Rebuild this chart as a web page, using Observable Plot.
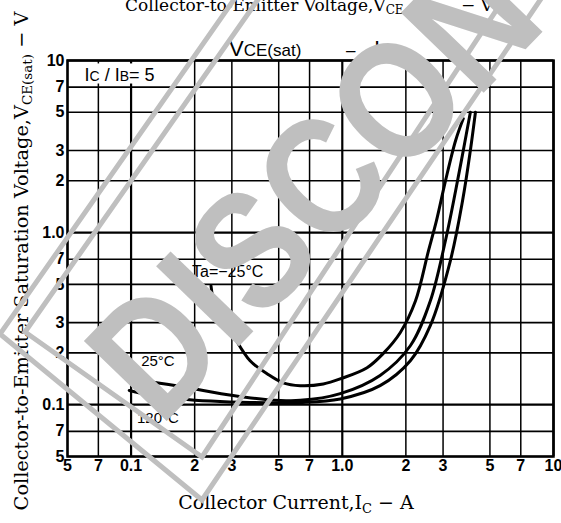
<!DOCTYPE html>
<html><head><meta charset="utf-8">
<script src="https://cdn.jsdelivr.net/npm/d3@7"></script>
<script src="https://cdn.jsdelivr.net/npm/@observablehq/plot@0.6"></script>
<style>body{margin:0;background:#fff}#chart{width:561px;height:523px;overflow:hidden}</style>
</head><body><div id="chart"></div>
<script>
// ---- data ----
const xTicks = [0.05,0.07,0.1,0.2,0.3,0.5,0.7,1,2,3,5,7,10];
const xTickLabels = ["5","7","0.1","2","3","5","7","1.0","2","3","5","7","10"];
const yTicks = [0.05,0.07,0.1,0.2,0.3,0.5,0.7,1,2,3,5,7,10];
const yTickLabels = ["5","7","0.1","2","3","5","7","1.0","2","3","5","7","10"];
const curveNames = ["Ta=−25°C","25°C","120°C"];
const icCold = [0.239,0.250,0.301,0.366,0.442,0.525,0.632,0.813,0.99,1.31,1.56,1.88,2.22,2.56,2.79,3.08,3.44,3.74];
const vCold  = [0.49,0.377,0.259,0.180,0.151,0.134,0.129,0.132,0.142,0.164,0.198,0.262,0.40,0.786,1.17,2.0,3.43,4.6];
const icRoom = [0.123,0.176,0.304,0.442,0.632,0.978,1.51,2.10,2.61,3.08,3.44,3.74,4.04];
const vRoom  = [0.136,0.127,0.113,0.107,0.106,0.116,0.148,0.220,0.40,0.90,1.75,3.0,5.0];
const icHot  = [0.098,0.123,0.171,0.366,0.632,0.978,1.51,2.10,2.61,3.25,3.71,4.04,4.27];
const vHot   = [0.121,0.114,0.108,0.103,0.103,0.108,0.129,0.180,0.288,0.688,1.53,3.0,5.0];
// curve label anchors (data units) and anchors
const labelIc = [0.423,0.134,0.134];
const labelV  = [0.593,0.178,0.083];
const labelAnchor = ["end","middle","middle"];

const series = [[icCold,vCold],[icRoom,vRoom],[icHot,vHot]];
const rows = series.flatMap(([xs,ys],k)=>xs.map((x,i)=>({ic:x,v:ys[i],name:curveNames[k]})));
const labels = curveNames.map((n,i)=>({name:n,ic:labelIc[i],v:labelV[i],anchor:labelAnchor[i]}));
const xLab = xTicks.map((t,i)=>({t,label:xTickLabels[i]}));
const yLab = yTicks.map((t,i)=>({t,label:yTickLabels[i]}));
const boxBg = [{x1:0.052,x2:0.19,y1:7.3,y2:9.55}];
const decade = d => Math.abs(Math.log10(d) - Math.round(Math.log10(d))) < 1e-9;

const SANS = "'Liberation Sans', Arial, Helvetica, sans-serif";
const SERIF = "'DejaVu Serif', 'Liberation Serif', serif";

const plot = Plot.plot({
  width: 561, height: 523,
  marginLeft: 67, marginRight: 8, marginTop: 60, marginBottom: 67,
  style: {fontFamily: SANS, background: "#fff"},
  x: {type: "log", domain: [0.05, 10], axis: null},
  y: {type: "log", domain: [0.05, 10], axis: null},
  marks: [
    Plot.ruleX(xTicks, {stroke: "#000", strokeWidth: d => decade(d) ? 2.2 : 1.5}),
    Plot.ruleY(yTicks, {stroke: "#000", strokeWidth: d => decade(d) ? 2.2 : 1.6}),
    Plot.rect(boxBg, {x1: "x1", x2: "x2", y1: "y1", y2: "y2", fill: "#fff"}),
    Plot.line(rows, {x: "ic", y: "v", z: "name", stroke: "#000", strokeWidth: 3, curve: "catmull-rom"}),
    Plot.text(labels.filter(d => d.anchor === "end"), {x: "ic", y: "v", text: "name", fontSize: 16, fill: "#000", textAnchor: "end"}),
    Plot.text(labels.filter(d => d.anchor === "middle"), {x: "ic", y: "v", text: "name", fontSize: 15, fill: "#000", textAnchor: "middle"}),
    Plot.frame({stroke: "#000", strokeWidth: 2.5}),
    Plot.text(xLab, {x: "t", text: "label", frameAnchor: "bottom", lineAnchor: "top", dy: 3,
      fontSize: 16, fontWeight: "bold", fill: "#000"}),
    Plot.text(yLab, {y: "t", text: "label", frameAnchor: "left", textAnchor: "end", dx: -3,
      fontSize: 16, fontWeight: "bold", fill: "#000"})
  ]
});
document.getElementById("chart").appendChild(plot);

const sx = plot.scale("x"), sy = plot.scale("y");
const svg = d3.select(plot);

// Ic / IB = 5 label
const t1 = svg.append("text").attr("x", sx.apply(0.0605)).attr("y", sy.apply(8.18) + 6).attr("text-anchor", "start")
  .attr("font-family", SANS).attr("font-size", 18).attr("fill", "#000");
t1.append("tspan").text("I");
t1.append("tspan").attr("font-size", 14).text("C");
t1.append("tspan").text(" / I");
t1.append("tspan").attr("font-size", 14).text("B");
t1.append("tspan").text("= 5");

// title VCE(sat) - IC
const tt = svg.append("text").attr("x", 229).attr("y", 56).attr("text-anchor", "start")
  .attr("font-family", SANS).attr("font-size", 22).attr("fill", "#000");
tt.append("tspan").text("V");
tt.append("tspan").attr("font-size", 17).text("CE(sat)");
tt.append("tspan").attr("font-size", 17).attr("x", 346).text("–");
tt.append("tspan").attr("x", 374).text("I");
tt.append("tspan").attr("font-size", 17).text("C");

// top caption (cut by the crop)
const tc = svg.append("text").attr("x", 125).attr("y", 11).attr("text-anchor", "start")
  .attr("font-family", SERIF).attr("font-size", 17).attr("fill", "#000");
tc.append("tspan").text("Collector-to-Emitter Voltage,V");
tc.append("tspan").attr("font-size", 12).attr("dy", 3).text("CE");
tc.append("tspan").attr("dy", -3).attr("x", 461).text("− V");

// x axis title
const xt = svg.append("text").attr("x", 296).attr("y", 509).attr("text-anchor", "middle")
  .attr("font-family", SERIF).attr("font-size", 19).attr("fill", "#000");
xt.append("tspan").text("Collector Current,I");
xt.append("tspan").attr("font-size", 13).attr("dy", 4).text("C");
xt.append("tspan").attr("dy", -4).text(" − A");

// y axis title
const yt = svg.append("text").attr("transform", "translate(28,261) rotate(-90)").attr("text-anchor", "middle")
  .attr("font-family", SERIF).attr("font-size", 19.3).attr("fill", "#000");
yt.append("tspan").text("Collector-to-Emitter Saturation Voltage,V");
yt.append("tspan").attr("font-size", 13.5).attr("dy", 4).text("CE(sat)");
yt.append("tspan").attr("dy", -4).text(" − V");

// DISCONTINUED watermark stamp (decoration drawn over the chart)
const wm = svg.append("g").attr("pointer-events", "none");
const far = 900;
const stamp = (a, u1, d, u2) => [a, [a[0]+far*u1[0], a[1]+far*u1[1]], [d[0]+far*u2[0], d[1]+far*u2[1]], d]
  .map(p => p.join(",")).join(" ");
wm.append("polygon").attr("points", stamp([202,457],[0.550,-0.835],[25,332],[0.574,-0.819]))
  .attr("fill", "none").attr("stroke", "#bfbfbf").attr("stroke-width", 5);
wm.append("polygon").attr("points", stamp([202,500],[0.560,-0.828],[0,334],[0.573,-0.819]))
  .attr("fill", "none").attr("stroke", "#bfbfbf").attr("stroke-width", 5);
wm.append("text").attr("transform", "translate(160,428) rotate(-46) scale(0.93,1.08)").attr("text-anchor", "start")
  .attr("font-family", SANS).attr("font-weight", "bold").attr("font-size", 155).attr("fill", "#bfbfbf")
  .text("DISCONTINUED");
</script>
</body></html>
